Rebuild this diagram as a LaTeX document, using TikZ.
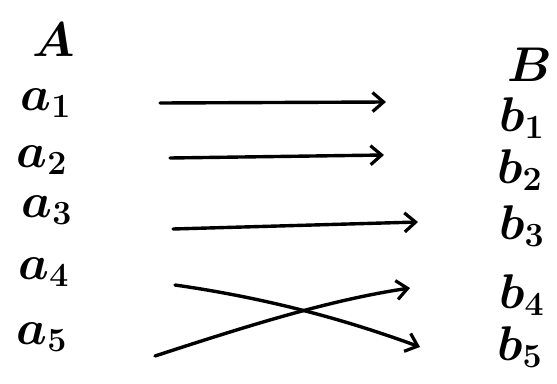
\documentclass[tikz,border=0pt]{standalone}
\usepackage{graphicx}
\usetikzlibrary{arrows.meta}
\newcommand{\biglbl}[1]{\scalebox{2.35}{\huge\boldmath$#1$}}
\begin{document}
\begin{tikzpicture}[x=1pt,y=-1pt,
  lbl/.style={inner sep=0pt},
  maparrow/.style={line width=3.4pt, line cap=round, -{Straight Barb[length=11pt,width=19pt,line width=3.2pt]}}]
\useasboundingbox[fill=white] (0,0) rectangle (557,383);
\node[lbl] (A) at (54,40) {\biglbl{A}};
\node[lbl] (a1) at (46,103) {\biglbl{a_1}};
\node[lbl] (a2) at (42,160) {\biglbl{a_2}};
\node[lbl] (a3) at (47,210) {\biglbl{a_3}};
\node[lbl] (a4) at (44,272) {\biglbl{a_4}};
\node[lbl] (a5) at (42,337) {\biglbl{a_5}};
\node[lbl] (B) at (530,65) {\biglbl{B}};
\node[lbl] (b1) at (522,118) {\biglbl{b_1}};
\node[lbl] (b2) at (520,170) {\biglbl{b_2}};
\node[lbl] (b3) at (522,226) {\biglbl{b_3}};
\node[lbl] (b4) at (522,295) {\biglbl{b_4}};
\node[lbl] (b5) at (520,347) {\biglbl{b_5}};
\coordinate (s1) at (160,103); \coordinate (t1) at (386,102);
\coordinate (s2) at (170,158); \coordinate (t2) at (384,155);
\coordinate (s3) at (173,229); \coordinate (t3) at (418,222);
\coordinate (s4) at (175,285); \coordinate (t4) at (420,347);
\coordinate (s5) at (155,356); \coordinate (t5) at (410,288);
\draw[maparrow] (s1) -- (t1);
\draw[maparrow] (s2) -- (t2);
\draw[maparrow] (s3) -- (t3);
\draw[maparrow] (s4) .. controls (280,300) and (360,325) .. (t4);
\draw[maparrow] (s5) .. controls (250,325) and (330,300) .. (t5);
\end{tikzpicture}
\end{document}
